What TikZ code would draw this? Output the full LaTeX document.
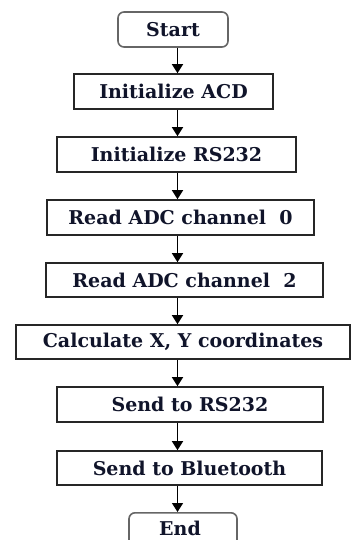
\documentclass[tikz,border=0pt]{standalone}
\usepackage{fontspec}
\setmainfont{DejaVu Serif}
\usetikzlibrary{arrows.meta}
\definecolor{txt}{HTML}{10142A}
\begin{document}
\begin{tikzpicture}[x=1pt,y=-1pt,
  proc/.style={draw=black!85, line width=1.6pt, fill=white, inner sep=0pt, text=txt,
     font=\bfseries\fontsize{19}{21}\selectfont},
  term/.style={proc, draw=black!60, rounded corners=6pt},
  flow/.style={line width=1.5pt, -{Triangle[width=11pt,length=9pt]}}]
\useasboundingbox (0,0) rectangle (351,540);
\clip (0,0) rectangle (351,540);
\node[term, minimum width=110pt, minimum height=35pt] (start) at (173,29.5) {Start};
\node[proc, minimum width=199pt, minimum height=35pt] (acd) at (173.5,91.5) {Initialize ACD};
\node[proc, minimum width=239pt, minimum height=35pt] (rs) at (176.5,154.5) {Initialize RS232};
\node[proc, minimum width=267pt, minimum height=35pt] (adc0) at (180.5,217.5) {Read ADC channel\ \ 0};
\node[proc, minimum width=277pt, minimum height=34pt] (adc2) at (184.5,280) {Read ADC channel\ \ 2};
\node[proc, minimum width=334pt, minimum height=34pt] (calc) at (183,342) {Calculate X, Y coordinates};
\node[proc, minimum width=266pt, minimum height=35pt] (srs) at (190,404.5) {Send to RS232};
\node[proc, minimum width=265pt, minimum height=34pt] (sbt) at (189.5,468) {Send to Bluetooth};
\node[term, minimum width=108pt, minimum height=40pt, anchor=north] (end) at (183,512) {};
\node[text=txt, inner sep=0pt, font=\bfseries\fontsize{19}{21}\selectfont] (endtxt) at (180,528) {End};
\coordinate (ax) at (177.5,0);
\draw[flow] (start.south -| ax) -- (acd.north -| ax);
\draw[flow] (acd.south -| ax) -- (rs.north -| ax);
\draw[flow] (rs.south -| ax) -- (adc0.north -| ax);
\draw[flow] (adc0.south -| ax) -- (adc2.north -| ax);
\draw[flow] (adc2.south -| ax) -- (calc.north -| ax);
\draw[flow] (calc.south -| ax) -- (srs.north -| ax);
\draw[flow] (srs.south -| ax) -- (sbt.north -| ax);
\draw[flow] (sbt.south -| ax) -- (end.north -| ax);
\end{tikzpicture}
\end{document}
